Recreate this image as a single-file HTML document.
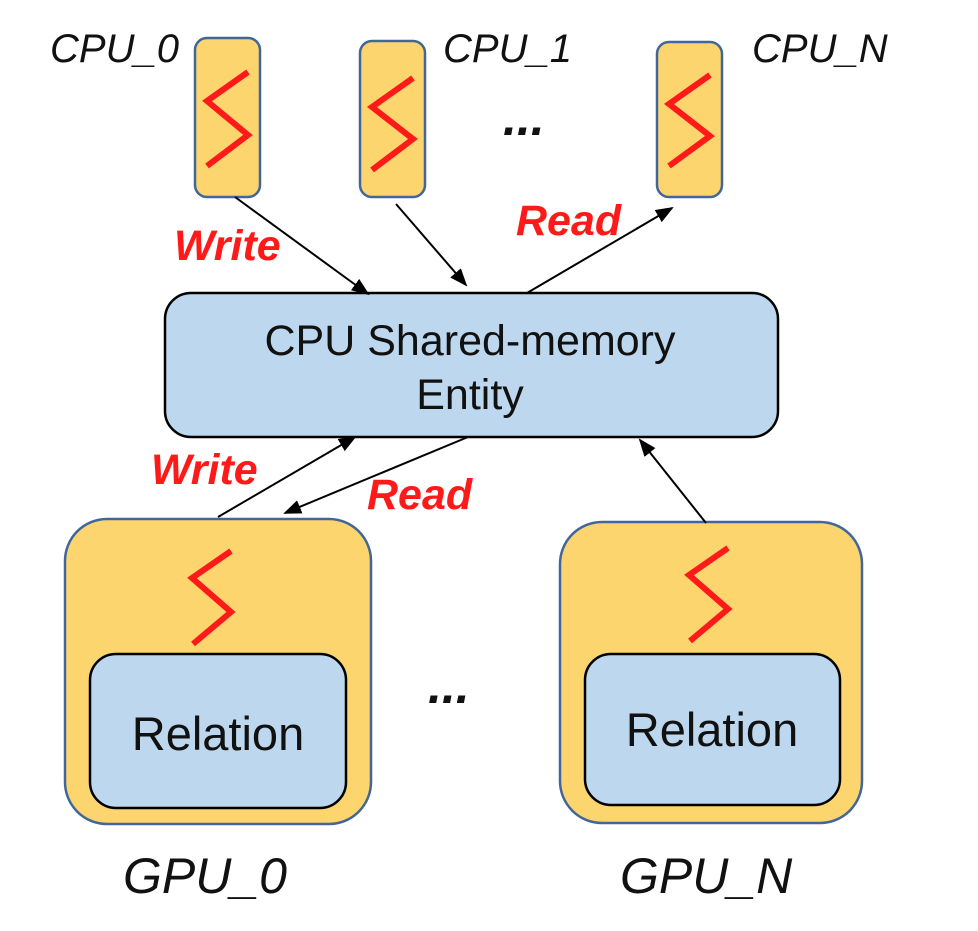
<!DOCTYPE html>
<html><head><meta charset="utf-8"><style>body{margin:0;background:#fff}</style></head><body>
<svg width="978" height="926" viewBox="0 0 978 926" xmlns="http://www.w3.org/2000/svg" font-family="Liberation Sans, sans-serif">
<defs>
<marker id="b" markerWidth="18" markerHeight="14" refX="16" refY="7" orient="auto" markerUnits="userSpaceOnUse"><path d="M0,0 L18,7 L0,14 z" fill="#000"/></marker></defs>
<g fill="#fcd56f" stroke="#41669a" stroke-width="2.5">
<rect x="195" y="38" width="65" height="159" rx="12"/>
<rect x="360" y="41" width="65" height="156" rx="12"/>
<rect x="657" y="42" width="65" height="155" rx="12"/>
<rect x="65" y="519" width="306" height="305" rx="42"/>
<rect x="560" y="522" width="302" height="301" rx="42"/>
</g>
<g fill="none" stroke="#ff1a1a" stroke-width="6">
<polyline points="248,72 207,101 248,135 207,166"/>
<polyline points="413,78 372,107 413,139 372,170"/>
<polyline points="710,75 669,104 710,136 669,166"/>
<polyline points="231,551 192,578 231,612 193,644"/>
<polyline points="728,548 689,575 728,609 690,641"/>
</g>
<g fill="#bdd7ee" stroke="#000" stroke-width="2.5">
<rect x="165" y="293" width="613" height="144" rx="26"/>
<rect x="90" y="654" width="256" height="154" rx="26"/>
<rect x="585" y="654" width="255" height="151" rx="26"/>
</g>
<g stroke="#000" stroke-width="2" marker-end="url(#b)">
<line x1="235" y1="197" x2="368" y2="294"/>
<line x1="396" y1="204" x2="466" y2="285"/>
<line x1="527" y1="293" x2="672" y2="208"/>
<line x1="218" y1="517" x2="355" y2="437"/>
<line x1="468" y1="437" x2="285" y2="513"/>
<line x1="706" y1="523" x2="640" y2="440"/>
</g>
<g font-size="43" text-anchor="middle" fill="#111">
<text x="470" y="355">CPU Shared-memory</text>
<text x="470" y="409">Entity</text>
</g>
<g font-size="47" text-anchor="middle" fill="#111">
<text x="218" y="750">Relation</text>
<text x="712" y="746">Relation</text>
</g>
<g font-style="italic" fill="#111">
<text x="50" y="62" font-size="40">CPU_0</text>
<text x="443" y="62" font-size="40">CPU_1</text>
<text x="752" y="62" font-size="40">CPU_N</text>
<text x="123" y="893" font-size="50">GPU_0</text>
<text x="620" y="893" font-size="50">GPU_N</text>
<text x="503" y="135" font-size="50" font-weight="bold">...</text>
<text x="428" y="703" font-size="50" font-weight="bold">...</text>
</g>
<g font-style="italic" font-weight="bold" fill="#ff1a1a" font-size="43">
<text x="174" y="260">Write</text>
<text x="516" y="235">Read</text>
<text x="151" y="484">Write</text>
<text x="367" y="509">Read</text>
</g>
</svg>
</body></html>
